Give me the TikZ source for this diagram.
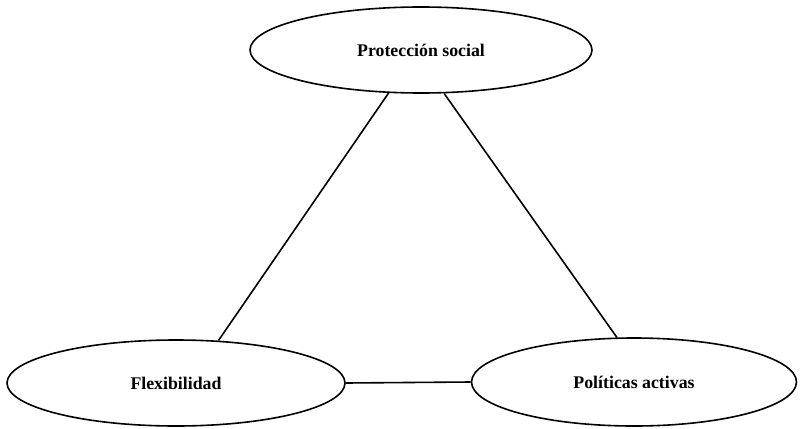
\documentclass[tikz,border=0pt]{standalone}
\usepackage{fontspec}
\setmainfont{Liberation Serif}
\usetikzlibrary{shapes.geometric}
\begin{document}
\begin{tikzpicture}[x=1pt,y=-1pt,
  oval/.style={ellipse,draw,line width=1.6pt,inner sep=0pt,font=\fontsize{17.8}{20}\selectfont\bfseries},
  link/.style={line width=1.6pt}]
\useasboundingbox (0,0) rectangle (802,428);
\node[oval,minimum width=342pt,minimum height=86pt] (ps) at (421,50) {Protección social};
\node[oval,minimum width=338pt,minimum height=86pt] (fl) at (176,383) {Flexibilidad};
\node[oval,minimum width=325pt,minimum height=88pt] (pa) at (634,382) {Políticas activas};
\draw[link] (ps.{233.8}) -- (fl.{45.5});
\draw[link] (ps.{298.4}) -- (pa.{111.2});
\draw[link] (fl.east) -- (pa.west);
\end{tikzpicture}
\end{document}
